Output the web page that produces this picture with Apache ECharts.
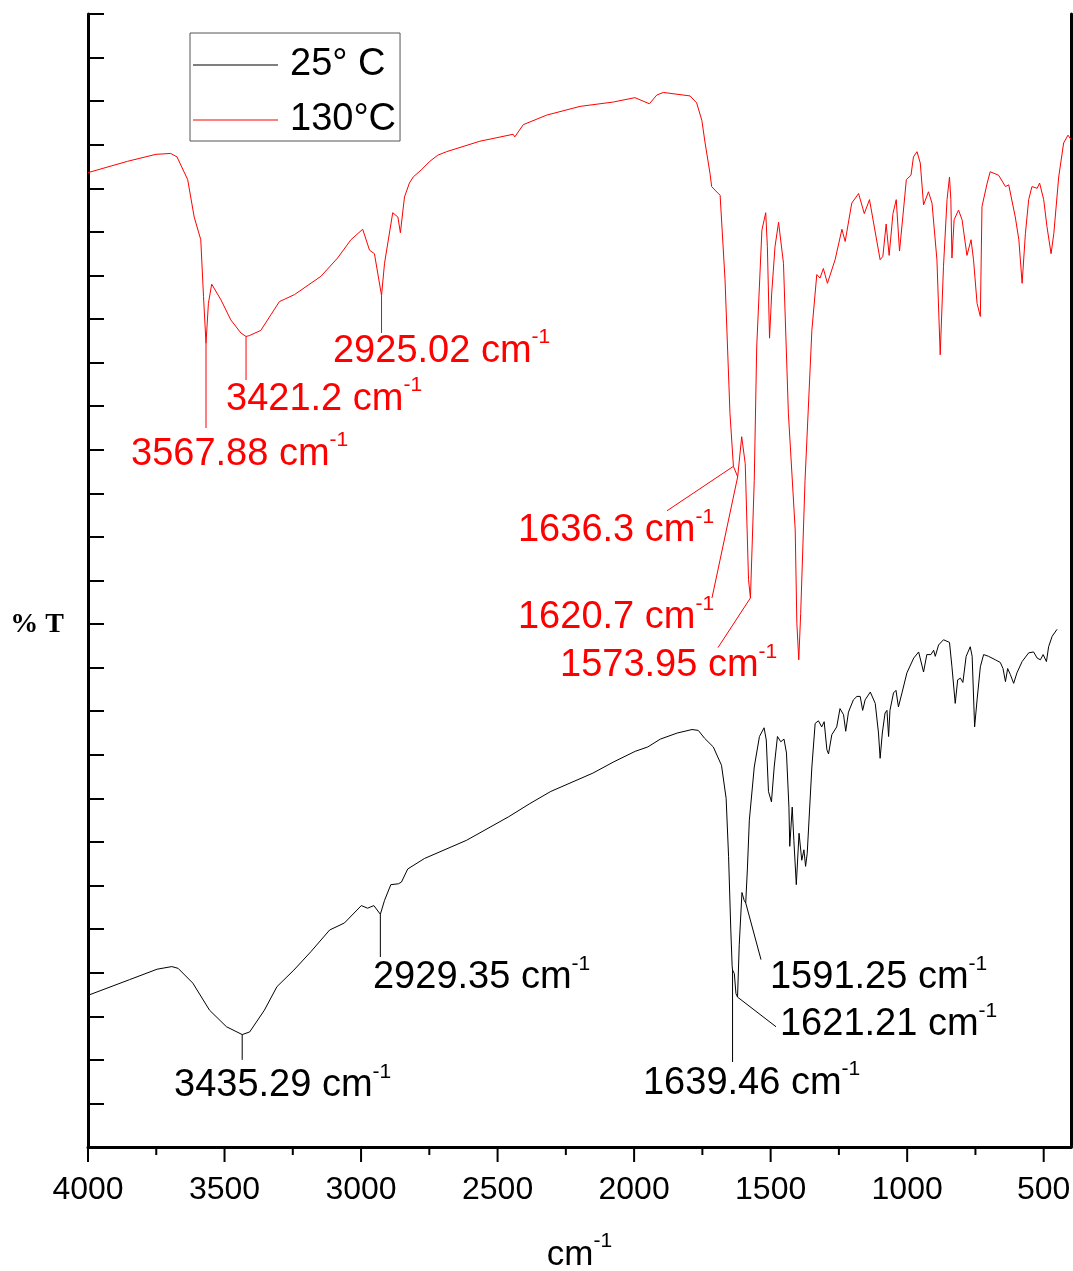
<!DOCTYPE html>
<html>
<head>
<meta charset="utf-8">
<script src="https://cdn.jsdelivr.net/npm/echarts@6/dist/echarts.min.js"></script>
<style>
html, body { margin: 0; padding: 0; background: #fff; }
#chart { width: 1073px; height: 1271px; }
</style>
</head>
<body>
<div id="chart"></div>
<script>
// FTIR spectra: wavenumber (cm-1) and relative transmittance (arbitrary offset units)
const wn130 = [4000, 3855, 3751, 3697, 3674, 3635, 3611, 3587, 3577, 3567.88, 3559, 3547, 3513, 3477, 3440, 3421.2, 3409, 3367, 3330, 3299, 3244, 3147, 3086, 3037, 2994, 2969, 2951, 2925.02, 2914, 2884, 2865, 2856, 2841, 2823, 2809, 2780, 2748, 2719, 2687, 2565, 2443, 2437, 2406, 2320, 2198, 2076, 1997, 1944, 1917, 1893, 1795, 1771, 1752, 1740, 1722, 1716, 1704, 1685, 1667, 1649, 1636.3, 1620.7, 1606, 1593, 1581, 1573.95, 1560, 1551, 1532, 1518, 1512, 1504, 1496, 1484, 1471, 1453, 1435, 1410, 1404, 1397, 1390, 1374, 1349, 1331, 1319, 1307, 1292, 1264, 1239, 1227, 1203, 1178, 1157, 1138, 1099, 1089, 1077, 1066, 1052, 1040, 1028, 1016, 1003, 986, 977, 964, 952, 940, 922, 909, 891, 879, 867, 854, 845, 840, 836, 828, 812, 799, 781, 766, 757, 744, 732, 726, 707, 696, 665, 640, 628, 604, 591, 579, 567, 555, 543, 524, 515, 500, 488, 473, 463, 445, 427, 411, 400];
const t130 = [111.8, 113.1, 113.9, 114.0, 113.6, 111.0, 106.7, 104.1, 97.6, 92.2, 96.8, 99.0, 97.2, 94.9, 93.4, 93.0, 93.1, 93.7, 95.5, 97.0, 97.8, 99.9, 102.0, 104.1, 105.3, 102.9, 102.5, 97.7, 101.4, 107.2, 106.7, 104.9, 109.0, 110.6, 111.3, 112.1, 113.1, 113.8, 114.2, 115.4, 116.2, 115.9, 117.3, 118.4, 119.4, 119.9, 120.4, 119.7, 120.7, 121.0, 120.6, 119.8, 117.8, 115.2, 111.7, 110.2, 109.8, 109.2, 99.5, 84.2, 78.1, 76.9, 81.5, 78.4, 65.1, 63.0, 76.5, 91.8, 105.2, 107.2, 103.3, 92.8, 98.0, 103.3, 106.1, 101.4, 84.2, 70.8, 60.1, 55.9, 61.2, 76.5, 93.7, 100.1, 99.7, 100.8, 99.1, 101.8, 105.3, 103.9, 108.3, 109.4, 107.1, 108.7, 101.8, 102.2, 105.9, 102.3, 107.1, 108.7, 102.8, 106.7, 111.0, 111.5, 113.6, 114.2, 112.9, 108.1, 109.6, 108.3, 101.8, 90.9, 101.0, 108.7, 111.3, 108.7, 102.0, 106.4, 107.5, 106.4, 102.3, 104.1, 101.8, 96.8, 95.3, 107.9, 110.6, 111.9, 111.5, 110.2, 110.4, 106.7, 104.1, 99.1, 104.8, 108.7, 110.2, 110.0, 110.6, 108.7, 105.6, 102.5, 104.8, 111.3, 115.2, 116.1, 115.6];

const wn25 = [4000, 3848, 3747, 3693, 3670, 3616, 3555, 3493, 3435.29, 3408, 3354, 3308, 3246, 3184, 3115, 3061, 2999, 2976, 2953, 2929.35, 2914, 2891, 2863, 2852, 2829, 2768, 2613, 2459, 2382, 2305, 2151, 2074, 1996, 1950, 1904, 1842, 1788, 1765, 1742, 1710, 1680, 1663, 1654, 1646, 1641, 1639.46, 1633, 1627, 1621.21, 1615, 1605, 1597, 1591.25, 1585, 1578, 1560, 1541, 1524, 1516, 1508, 1497, 1487, 1475, 1463, 1451, 1442, 1433, 1430, 1421, 1415, 1406, 1396, 1386, 1378, 1372, 1366, 1349, 1337, 1325, 1313, 1304, 1294, 1288, 1276, 1258, 1246, 1233, 1225, 1215, 1197, 1184, 1172, 1163, 1154, 1135, 1117, 1105, 1099, 1091, 1081, 1074, 1068, 1063, 1050, 1041, 1032, 1019, 1001, 976, 958, 940, 928, 913, 903, 897, 885, 867, 845, 836, 824, 815, 805, 796, 784, 769, 762, 753, 744, 732, 720, 702, 677, 659, 649, 640, 632, 622, 610, 598, 579, 555, 537, 524, 512, 502, 490, 482, 469, 451];
const t25 = [17.4, 19.2, 20.4, 20.7, 20.5, 18.8, 15.7, 13.8, 12.9, 13.2, 15.7, 18.4, 20.3, 22.4, 24.9, 25.7, 27.7, 27.4, 27.7, 26.7, 28.3, 30.1, 30.2, 30.4, 31.9, 33.1, 35.2, 37.9, 39.4, 40.8, 42.9, 44.2, 45.4, 45.9, 46.8, 47.5, 47.9, 47.8, 46.9, 45.9, 43.8, 40.0, 33.3, 25.0, 20.8, 20.3, 19.9, 17.6, 17.2, 23.2, 29.2, 28.3, 28.0, 32.0, 37.5, 43.6, 47.1, 48.1, 46.7, 40.8, 39.6, 43.6, 47.1, 46.5, 46.8, 45.2, 39.0, 34.5, 39.0, 35.2, 30.1, 36.0, 32.9, 34.1, 32.2, 33.7, 43.6, 48.6, 48.9, 48.2, 48.8, 45.6, 45.1, 47.3, 48.2, 50.3, 49.6, 47.7, 49.9, 51.3, 51.7, 51.7, 50.1, 51.3, 52.2, 50.9, 47.5, 44.6, 47.5, 49.8, 50.1, 47.1, 50.1, 52.1, 52.4, 50.5, 52.1, 54.4, 56.1, 56.8, 54.5, 56.5, 56.5, 57.0, 56.3, 57.6, 58.2, 57.9, 55.1, 50.9, 53.6, 53.8, 53.3, 56.3, 57.4, 56.3, 48.2, 51.3, 55.1, 56.5, 56.3, 55.9, 55.6, 54.9, 53.4, 54.9, 54.2, 53.2, 54.4, 55.7, 56.7, 56.8, 56.1, 55.9, 56.5, 55.7, 57.4, 58.6, 59.4];

// Labelled band positions (cm-1)
const peaks130 = [3567.88, 3421.2, 2925.02, 1636.3, 1620.7, 1573.95];
const peaks25 = [3435.29, 2929.35, 1639.46, 1621.21, 1591.25];
// Where each leader line ends, and where each band label sits, in axis units
const leaderEnd130 = [[3567.88, 82.5], [3421.2, 88.0], [2925.02, 93.4], [1879.6, 73.0], [1714.8, 63.0], [1692.8, 57.3]];
const labelAt130 = [[3842.5, 79.5], [3494.6, 85.8], [3102.8, 91.3], [2425.3, 70.7], [2425.3, 60.7], [2271.4, 55.2]];
const leaderEnd25 = [[3435.29, 10.0], [2929.35, 21.8], [1639.46, 9.75], [1480.4, 13.8], [1535.3, 21.5]];
const labelAt25 = [[3685, 7.0], [2956.3, 19.4], [1967.5, 7.3], [1465.8, 14.0], [1502.4, 19.4]];

// Wavenumber scale marks: every 500 cm-1, with a short mark half-way
const xMajorTicks = [500, 1000, 1500, 2000, 2500, 3000, 3500, 4000];
const xMinorTicks = [750, 1250, 1750, 2250, 2750, 3250, 3750];

const seriesNames = ['25° C', '130°C'];

const FONT = "'Liberation Sans', Arial, sans-serif";
const Y_MAX = 130;
const PLOT_H = 1271 - 14 - 124;             // grid height in px
const PX_PER_UNIT = PLOT_H / Y_MAX;

function zip(a, b) { return a.map((v, i) => [v, b[i]]); }

// tick marks hung below the wavenumber axis line
function tickSeries(values, lenPx) {
  const depth = lenPx / PX_PER_UNIT;
  return values.map((v) => ({
    type: 'line',
    data: [[v, 0], [v, -depth]],
    symbol: 'none',
    silent: true,
    clip: false,
    z: 6,
    lineStyle: { color: '#000', width: 2, cap: 'butt' },
    animation: false
  }));
}

function bandSeries(peaks, wn, t, ends, anchors, color) {
  const out = [];
  peaks.forEach((p, i) => {
    const v0 = t[wn.indexOf(p)];
    out.push({
      type: 'line',
      data: [[p, v0], ends[i]],
      symbol: 'none',
      silent: true,
      z: 4,
      lineStyle: { color: color, width: 1 },
      animation: false
    });
  });
  out.push({
    type: 'scatter',
    data: anchors,
    symbol: 'circle',
    symbolSize: 0,
    itemStyle: { color: color, opacity: 1 },
    silent: true,
    z: 5,
    label: {
      show: true,
      position: 'right',
      distance: 0,
      opacity: 1,
      textBorderWidth: 0,
      formatter: (prm) => '{m|' + String(peaks[prm.dataIndex]) + ' cm}{s|-1}',
      rich: {
        m: { fontSize: 38, lineHeight: 49, color: color, fontFamily: FONT },
        s: { fontSize: 21, lineHeight: 21, color: color, fontFamily: FONT, verticalAlign: 'top' }
      }
    },
    animation: false
  });
  return out;
}

const chart = echarts.init(document.getElementById('chart'), null, { renderer: 'canvas' });

const option = {
  backgroundColor: '#ffffff',
  animation: false,
  grid: { left: 88, right: 2, top: 14, bottom: 124, outerBoundsMode: 'none', containLabel: false },
  legend: {
    data: seriesNames,
    orient: 'vertical',
    left: 190,
    top: 33,
    icon: 'rect',
    itemWidth: 85,
    itemHeight: 1,
    itemGap: 15,
    padding: [12, 4, 1, 3],
    borderColor: '#555',
    borderWidth: 1,
    selectedMode: false,
    textStyle: { fontSize: 38, lineHeight: 40, color: '#000', fontFamily: FONT, padding: [0, 0, 0, 7] }
  },
  xAxis: [
    {
      type: 'value', min: 400, max: 4000, splitNumber: 7, inverse: true, position: 'bottom',
      axisLine: { show: true, onZero: false, lineStyle: { color: '#000', width: 3 } },
      axisTick: { show: false },
      axisLabel: { fontSize: 32, color: '#000', fontFamily: FONT, margin: 27, showMinLabel: false, showMaxLabel: true, formatter: (v) => String(v) },
      splitLine: { show: false },
      name: '{a|cm}{b|-1}',
      nameLocation: 'middle',
      nameGap: 84,
      nameTextStyle: {
        rich: {
          a: { fontSize: 35, lineHeight: 48, color: '#000', fontFamily: FONT },
          b: { fontSize: 21, lineHeight: 21, color: '#000', fontFamily: FONT, verticalAlign: 'top' }
        }
      }
    }
  ],
  yAxis: [
    {
      type: 'value', min: 0, max: Y_MAX, interval: 5, position: 'left',
      axisLine: { show: true, onZero: false, lineStyle: { color: '#000', width: 3 } },
      axisTick: { show: true, inside: true, length: 16, lineStyle: { color: '#000', width: 2 } },
      axisLabel: { show: false },
      splitLine: { show: false },
      name: '\n\n% T',
      nameLocation: 'middle',
      nameRotate: 0,
      nameGap: 24,
      nameTextStyle: { fontFamily: "'Liberation Serif', 'Times New Roman', serif", fontWeight: 'bold', fontSize: 28, lineHeight: 44.5, color: '#000' }
    },
    {
      type: 'value', min: 0, max: Y_MAX, position: 'right',
      axisLine: { show: true, onZero: false, lineStyle: { color: '#000', width: 3 } },
      axisTick: { show: false },
      axisLabel: { show: false },
      splitLine: { show: false }
    }
  ],
  series: [
    {
      name: seriesNames[0], type: 'line', data: zip(wn25, t25), symbol: 'none', z: 3,
      lineStyle: { color: '#000', width: 1 }, itemStyle: { color: '#000' }
    },
    {
      name: seriesNames[1], type: 'line', data: zip(wn130, t130), symbol: 'none', z: 3,
      lineStyle: { color: '#ff0000', width: 1 }, itemStyle: { color: '#ff0000' }
    }
  ]
    .concat(bandSeries(peaks130, wn130, t130, leaderEnd130, labelAt130, '#ff0000'))
    .concat(bandSeries(peaks25, wn25, t25, leaderEnd25, labelAt25, '#000000'))
    .concat(tickSeries(xMajorTicks, 15))
    .concat(tickSeries(xMinorTicks, 8))
};

chart.setOption(option);
</script>
</body>
</html>
